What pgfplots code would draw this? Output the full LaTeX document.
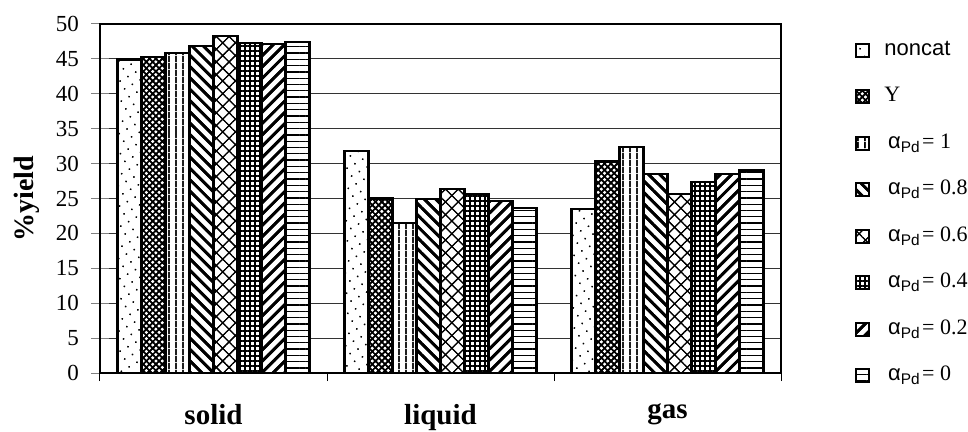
\documentclass[border=0pt]{standalone}
\usepackage{fontspec}
\setmainfont{Liberation Serif}
\newfontfamily\lsans{Liberation Sans}
\usepackage{pgfplots}
\pgfplotsset{compat=1.18}
\usepackage{pgfplotstable}
\usetikzlibrary{patterns.meta}

\pgfplotstableread{
x noncat Y a1 a08 a06 a04 a02 a0
0 44.9 45.3 45.9 46.8 48.3 47.3 47.1 47.4
1 31.8 25.0 21.5 24.9 26.4 25.6 24.6 23.6
2 23.5 30.3 32.4 28.5 25.6 27.4 28.5 29.0
}\datatable

\pgfplotsset{
  mybar/.style={preaction={fill=white}, pattern={#1}, draw=black, line width=2pt,
    postaction={draw=black, line width=2.2pt},
    legend image code/.code={\draw[##1, line width=1.8pt] (0pt,-6.5pt) rectangle (13pt,6.5pt); \path (25pt,0pt);}},
}

\begin{document}
\begin{tikzpicture}
\path[use as bounding box] (-100pt,-58pt) rectangle (868pt,373pt);
\begin{axis}[
  at={(0,0)}, anchor=south west,
  scale only axis, width=681pt, height=349pt,
  xmin=-0.5, xmax=2.5, ymin=0, ymax=50,
  ybar=0pt, bar width=0.1057,
  xtick={0,1,2}, xticklabels={solid,liquid,gas},
  xtick style={draw=none},
  extra x ticks={-0.5,0.5,1.5,2.5}, extra x tick labels={},
  extra x tick style={xtick style={draw=black,line width=1pt}, tick align=outside, major tick length=8pt, grid=none},
  ytick={0,5,...,50},
  ymajorgrids, grid style={line width=0.9pt, black!80},
  tick align=center, major tick length=17pt,
  ytick style={line width=1pt},
  ytick pos=left, xtick pos=bottom,
  axis line style={line width=1.1pt},
  /pgf/number format/assume math mode=true,
  yticklabel style={font=\fontsize{23}{24}\selectfont, xshift=-9pt},
  xticklabel style={font=\fontsize{29}{30}\selectfont\bfseries, yshift=-19pt},
  ylabel={\%yield},
  ylabel style={font=\fontsize{28}{30}\selectfont\bfseries, at={(axis description cs:-0.107,0.5)}, anchor=center},
  legend style={at={(1,1)}, anchor=north west, xshift=74pt, yshift=-13pt, draw=none, fill=none, inner sep=0pt, row sep=20.5pt, font=\fontsize{22}{24}\selectfont, nodes={text height=16pt, text depth=6pt}},
  legend cell align=left,
]
\addplot[mybar={Dots[distance=9pt, angle=30, radius=0.9pt]}] table[x=x, y=noncat] {\datatable};
\addlegendentry{{\lsans noncat}}
\addplot[mybar={Hatch[angle=45, distance=4.5pt, line width=1.5pt]}] table[x=x, y=Y] {\datatable};
\addlegendentry{Y}
\addplot[mybar={Lines[angle=90, distance=6.5pt, line width=1.5pt]}] table[x=x, y=a1] {\datatable};
\addlegendentry{\,{\lsans α\textsubscript{Pd}}\kern2pt= 1}
\addplot[mybar={Lines[angle=-45, distance=8pt, line width=2.8pt]}] table[x=x, y=a08] {\datatable};
\addlegendentry{\,{\lsans α\textsubscript{Pd}}\kern2pt= 0.8}
\addplot[mybar={Hatch[angle=45, distance=9pt, line width=1.1pt]}] table[x=x, y=a06] {\datatable};
\addlegendentry{\,{\lsans α\textsubscript{Pd}}\kern2pt= 0.6}
\addplot[mybar={Hatch[angle=0, distance=5pt, line width=1.2pt]}] table[x=x, y=a04] {\datatable};
\addlegendentry{\,{\lsans α\textsubscript{Pd}}\kern2pt= 0.4}
\addplot[mybar={Lines[angle=45, distance=8pt, line width=2.8pt]}] table[x=x, y=a02] {\datatable};
\addlegendentry{\,{\lsans α\textsubscript{Pd}}\kern2pt= 0.2}
\addplot[mybar={Lines[angle=0, distance=6.3pt, line width=1.3pt]}] table[x=x, y=a0] {\datatable};
\addlegendentry{\,{\lsans α\textsubscript{Pd}}\kern2pt= 0}
\end{axis}
\end{tikzpicture}
\end{document}
